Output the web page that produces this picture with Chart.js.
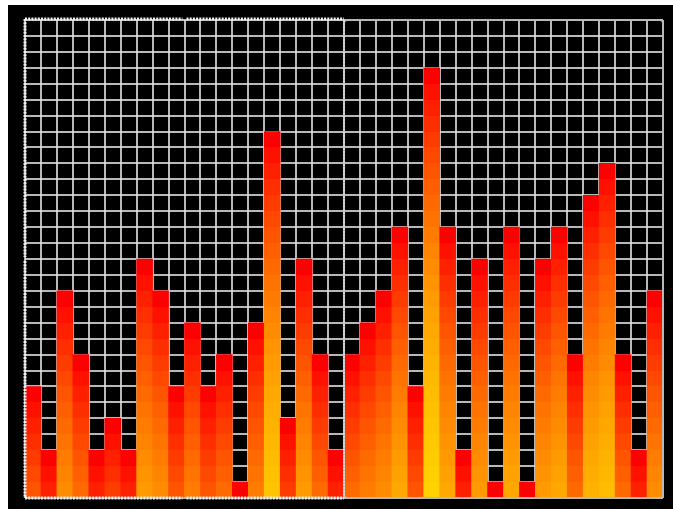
<!DOCTYPE html>
<html>
<head>
<meta charset="utf-8">
<script src="https://cdn.jsdelivr.net/npm/chart.js@4/dist/chart.umd.min.js"></script>
<style>
  html, body { margin: 0; padding: 0; background: #ffffff; width: 673px; height: 509px; overflow: hidden; }
  #wrap { position: absolute; left: 8px; top: 5px; width: 665px; height: 504px; background: #000000; }
  canvas { display: block; }
</style>
</head>
<body>
<div id="wrap"><canvas id="c" width="665" height="504"></canvas></div>
<script>
// Frequency bands (no visible labels in the reference)
const bands = ['1','2','3','4','5','6','7','8','9','10','11','12','13','14','15','16','17','18','19','20',
               '21','22','23','24','25','26','27','28','29','30','31','32','33','34','35','36','37','38','39','40'];
// Bar levels, in grid cells
const levels = [7, 3, 13, 9, 3, 5, 3, 15, 13, 7, 11, 7, 9, 1, 11, 23, 5, 15, 9, 3,
                9, 11, 13, 17, 7, 27, 17, 3, 15, 1, 17, 1, 15, 17, 9, 19, 21, 9, 3, 13];
// Level axis range
const levelMin = 0;
const levelMax = 30;

function cellColor(depth) {
  const h = 60 * (1 - Math.exp(-depth / 15));
  return 'hsl(' + h.toFixed(1) + ',100%,50%)';
}

function barFill(ctx) {
  const chart = ctx.chart;
  if (!chart.chartArea || ctx.type !== 'data') return '#ff1a10';
  const v = ctx.raw;
  if (!v) return '#ff1a10';
  const y = chart.scales.y;
  const top = y.getPixelForValue(v);
  const bottom = y.getPixelForValue(0);
  const g = chart.ctx.createLinearGradient(0, top, 0, bottom);
  for (let k = 0; k < v; k++) {
    const c = cellColor(k);
    g.addColorStop(k / v, c);
    g.addColorStop((k + 1) / v, c);
  }
  return g;
}

const frames = {
  id: 'frames',
  afterDraw(chart) {
    const { ctx, chartArea: a } = chart;
    const midX = chart.scales.x.getPixelForValue(19.5);
    const gapX = chart.scales.x.getPixelForValue(9.5);
    const gapY = chart.scales.y.getPixelForValue(15);
    ctx.save();
    // right panel: solid grey rounded frame
    ctx.strokeStyle = '#b8b8b8';
    ctx.lineWidth = 2;
    ctx.beginPath();
    ctx.roundRect(midX, a.top, a.right - midX, a.bottom - a.top, 3);
    ctx.stroke();
    // left panel: beaded (dotted) frame
    ctx.strokeStyle = '#f2f2f2';
    ctx.lineWidth = 3;
    ctx.setLineDash([2, 1.2]);
    ctx.beginPath();
    ctx.moveTo(a.left, a.top - 1); ctx.lineTo(gapX - 2, a.top - 1);
    ctx.moveTo(gapX + 2, a.top - 1); ctx.lineTo(midX, a.top - 1);
    ctx.moveTo(a.left, a.bottom); ctx.lineTo(gapX - 2, a.bottom);
    ctx.moveTo(gapX + 2, a.bottom); ctx.lineTo(midX, a.bottom);
    ctx.moveTo(a.left, a.top - 1); ctx.lineTo(a.left, gapY - 2);
    ctx.moveTo(a.left, gapY + 2); ctx.lineTo(a.left, a.bottom);
    ctx.stroke();
    ctx.lineWidth = 2;
    ctx.strokeStyle = '#dcdcdc';
    ctx.beginPath();
    ctx.moveTo(midX, a.top); ctx.lineTo(midX, a.bottom);
    ctx.stroke();
    ctx.restore();
  }
};

new Chart(document.getElementById('c'), {
  type: 'bar',
  data: {
    labels: bands,
    datasets: [{
      data: levels,
      backgroundColor: barFill,
      borderWidth: 0,
      barPercentage: 1,
      categoryPercentage: 1
    }]
  },
  options: {
    responsive: false,
    animation: false,
    events: [],
    layout: { padding: { left: 17, right: 10, top: 15, bottom: 11 } },
    plugins: { legend: { display: false }, tooltip: { enabled: false } },
    scales: {
      x: {
        z: 1,
        offset: true,
        grid: { display: true, offset: true, color: 'rgba(225,225,225,0.82)', lineWidth: 2, drawTicks: false },
        border: { display: false },
        ticks: { display: false }
      },
      y: {
        z: 1,
        min: levelMin,
        max: levelMax,
        grid: { display: true, color: 'rgba(225,225,225,0.82)', lineWidth: 2, drawTicks: false },
        border: { display: false },
        ticks: { display: false, stepSize: 1 }
      }
    }
  },
  plugins: [frames]
});
</script>
</body>
</html>
